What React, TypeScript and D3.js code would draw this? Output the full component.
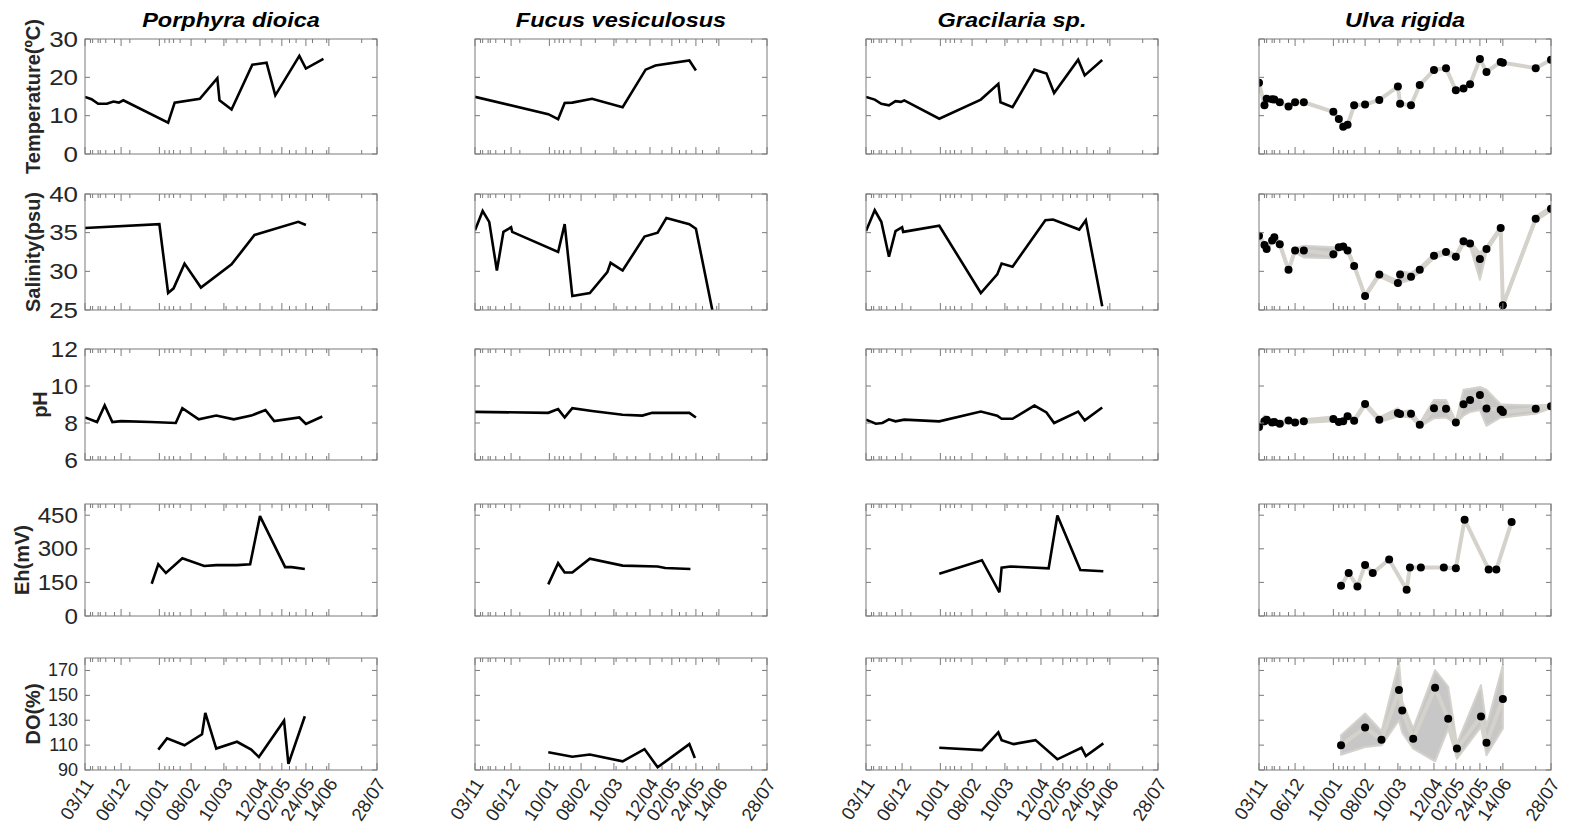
import React from "react";
import * as d3 from "d3";

// ---------- chart content ----------
const speciesNames = ["Porphyra dioica", "Fucus vesiculosus", "Gracilaria sp.", "Ulva rigida"];
const variableLabels = ["Temperature(ºC)", "Salinity(psu)", "pH", "Eh(mV)", "DO(%)"];
const yDomains: [number, number][] = [[0, 30], [25, 40], [6, 12], [0, 500], [90, 180]];
const yTickValues = [
  [0, 10, 20, 30],
  [25, 30, 35, 40],
  [6, 8, 10, 12],
  [0, 150, 300, 450],
  [90, 110, 130, 150, 170],
];

const axisStart = "03/11";
const axisEnd = "28/07";
const labelledDates = ["03/11", "06/12", "10/01", "08/02", "10/03", "12/04", "02/05", "24/05", "14/06", "28/07"];

type Pt = [string, number];

// Porphyra dioica
const porphyraTemp: Pt[] = [["03/11", 14.9], ["09/11", 14.3], ["15/11", 13.1], ["23/11", 13.1], ["29/11", 13.7], ["04/12", 13.4], ["08/12", 14.0], ["18/01", 8.2], ["24/01", 13.4], ["16/02", 14.4], ["04/03", 19.8], ["06/03", 14.0], ["17/03", 11.6], ["05/04", 23.3], ["18/04", 23.8], ["26/04", 15.3], ["18/05", 25.6], ["24/05", 22.3], ["09/06", 24.8]];
const porphyraSal: Pt[] = [["03/11", 35.6], ["10/01", 36.1], ["18/01", 27.2], ["23/01", 27.8], ["02/02", 31.0], ["17/02", 27.9], ["17/03", 30.9], ["07/04", 34.7], ["17/05", 36.4], ["24/05", 36.0]];
const porphyraPh: Pt[] = [["03/11", 8.3], ["14/11", 8.05], ["21/11", 8.95], ["28/11", 8.05], ["06/12", 8.1], ["02/01", 8.05], ["25/01", 8.0], ["31/01", 8.8], ["15/02", 8.2], ["03/03", 8.4], ["19/03", 8.2], ["04/04", 8.4], ["17/04", 8.7], ["25/04", 8.1], ["18/05", 8.3], ["24/05", 7.95], ["08/06", 8.35]];
const porphyraEh: Pt[] = [["03/01", 144], ["09/01", 231], ["16/01", 192], ["31/01", 258], ["20/02", 223], ["03/03", 227], ["22/03", 227], ["03/04", 231], ["12/04", 446], ["05/05", 218], ["11/05", 218], ["23/05", 210]];
const porphyraDo: Pt[] = [["09/01", 106.4], ["17/01", 115.4], ["02/02", 109.9], ["18/02", 118.7], ["21/02", 135.9], ["03/03", 107.2], ["22/03", 112.7], ["04/04", 106.4], ["11/04", 100.4], ["04/05", 129.6], ["08/05", 94.9], ["23/05", 133.2]];

// Fucus vesiculosus
const fucusTemp: Pt[] = [["03/11", 14.9], ["09/01", 10.4], ["18/01", 9.1], ["24/01", 13.3], ["31/01", 13.4], ["18/02", 14.4], ["18/03", 12.2], ["08/04", 22.0], ["17/04", 23.1], ["18/05", 24.4], ["24/05", 21.8]];
const fucusSal: Pt[] = [["03/11", 35.3], ["10/11", 37.8], ["16/11", 36.4], ["23/11", 30.1], ["29/11", 35.1], ["06/12", 35.7], ["07/12", 35.1], ["18/01", 32.5], ["24/01", 36.1], ["31/01", 26.8], ["16/02", 27.2], ["04/03", 29.9], ["07/03", 31.1], ["18/03", 30.1], ["07/04", 34.5], ["19/04", 35.0], ["27/04", 36.9], ["18/05", 36.1], ["24/05", 35.5], ["08/06", 25.0]];
const fucusPh: Pt[] = [["03/11", 8.6], ["09/01", 8.55], ["18/01", 8.75], ["24/01", 8.3], ["31/01", 8.8], ["18/02", 8.65], ["18/03", 8.45], ["05/04", 8.4], ["14/04", 8.55], ["18/05", 8.55], ["24/05", 8.3]];
const fucusEh: Pt[] = [["09/01", 141], ["18/01", 236], ["24/01", 194], ["31/01", 194], ["16/02", 256], ["18/03", 225], ["19/04", 221], ["26/04", 214], ["19/05", 210]];
const fucusDo: Pt[] = [["09/01", 104.2], ["31/01", 100.7], ["16/02", 102.5], ["18/03", 97.0], ["07/04", 106.8], ["19/04", 92.2], ["18/05", 110.8], ["23/05", 99.6]];

// Gracilaria sp.
const gracTemp: Pt[] = [["03/11", 14.9], ["11/11", 14.2], ["17/11", 13.1], ["24/11", 12.7], ["30/11", 13.8], ["05/12", 13.6], ["08/12", 14.0], ["09/01", 9.2], ["16/02", 14.2], ["04/03", 18.3], ["06/03", 13.5], ["17/03", 12.2], ["06/04", 22.0], ["17/04", 21.0], ["24/04", 15.9], ["16/05", 24.6], ["22/05", 20.5], ["07/06", 24.5]];
const gracSal: Pt[] = [["03/11", 35.2], ["11/11", 37.9], ["17/11", 36.4], ["24/11", 31.9], ["30/11", 35.2], ["06/12", 35.7], ["07/12", 35.1], ["09/01", 35.9], ["16/02", 27.2], ["03/03", 29.6], ["07/03", 31.0], ["17/03", 30.6], ["16/04", 36.6], ["23/04", 36.7], ["17/05", 35.4], ["23/05", 36.6], ["07/06", 25.5]];
const gracPh: Pt[] = [["03/11", 8.18], ["12/11", 7.96], ["18/11", 8.0], ["24/11", 8.2], ["30/11", 8.09], ["08/12", 8.18], ["09/01", 8.09], ["16/02", 8.62], ["03/03", 8.39], ["07/03", 8.23], ["17/03", 8.23], ["06/04", 8.94], ["17/04", 8.57], ["24/04", 8.0], ["16/05", 8.62], ["22/05", 8.14], ["07/06", 8.84]];
const gracEh: Pt[] = [["09/01", 189], ["17/02", 249], ["05/03", 106], ["07/03", 216], ["15/03", 221], ["19/04", 213], ["27/04", 449], ["18/05", 205], ["08/06", 200]];
const gracDo: Pt[] = [["09/01", 107.9], ["17/02", 106], ["04/03", 120.2], ["07/03", 114], ["18/03", 110.8], ["07/04", 114], ["27/04", 98.6], ["19/05", 107.9], ["23/05", 101.2], ["08/06", 111.4]];

// Ulva rigida (mean with min–max envelope)
const ulvaDates = ["03/11", "08/11", "10/11", "15/11", "17/11", "22/11", "30/11", "06/12", "14/12", "10/01", "15/01", "19/01", "23/01", "29/01", "08/02", "21/02", "10/03", "12/03", "22/03", "30/03", "12/04", "23/04", "02/05", "09/05", "15/05", "24/05", "30/05", "12/06", "14/06", "14/07", "28/07"];
const ulvaTemp = [18.6, 12.7, 14.4, 14.3, 14.2, 13.5, 12.4, 13.5, 13.5, 11.0, 9.1, 7.1, 7.6, 12.7, 12.9, 14.1, 17.6, 13.1, 12.7, 18.0, 21.9, 22.4, 16.6, 17.1, 18.2, 24.8, 21.4, 24.0, 23.8, 22.4, 24.6];
const ulvaSal = [34.6, 33.4, 32.9, 34.0, 34.4, 33.5, 30.2, 32.7, 32.7, 32.2, 33.1, 33.2, 32.7, 30.7, 26.8, 29.6, 28.5, 29.6, 29.3, 30.2, 32.0, 32.5, 31.9, 33.9, 33.6, 31.6, 32.9, 35.6, 25.6, 36.8, 38.1];
const ulvaSalLo = [34.3, 33.1, 32.6, 33.7, 34.1, 33.2, 29.9, 32.4, 31.8, 31.7, 32.8, 32.9, 32.4, 30.4, 26.5, 29.3, 28.2, 28.5, 28.9, 29.9, 31.7, 32.2, 31.6, 33.4, 33.2, 28.9, 32.5, 35.3, 25.3, 36.5, 37.8];
const ulvaSalHi = [34.9, 33.7, 33.2, 34.3, 34.7, 33.8, 30.5, 33.0, 33.3, 33.1, 33.4, 33.5, 33.0, 31.0, 27.1, 29.9, 28.8, 30.0, 29.8, 30.5, 32.3, 32.8, 32.2, 34.2, 33.9, 32.4, 33.2, 35.9, 25.9, 37.1, 38.4];
const ulvaPh = [7.79, 8.09, 8.18, 8.03, 8.05, 7.96, 8.14, 8.03, 8.09, 8.21, 8.05, 8.09, 8.36, 8.12, 9.03, 8.18, 8.54, 8.48, 8.5, 7.91, 8.8, 8.77, 8.03, 9.02, 9.25, 9.52, 8.78, 8.71, 8.59, 8.77, 8.91];
const ulvaPhLo = [7.65, 7.9, 8.0, 7.9, 7.95, 7.85, 8.05, 7.95, 8.0, 8.1, 7.95, 8.0, 8.25, 8.0, 8.9, 8.05, 8.35, 8.35, 8.3, 7.8, 8.25, 8.3, 7.95, 8.4, 8.6, 8.7, 7.85, 8.3, 8.3, 8.5, 8.8];
const ulvaPhHi = [7.95, 8.4, 8.3, 8.15, 8.15, 8.05, 8.25, 8.1, 8.2, 8.35, 8.15, 8.2, 8.5, 8.25, 9.15, 8.3, 8.8, 8.6, 8.7, 8.0, 9.25, 9.25, 8.1, 9.8, 9.85, 9.95, 9.8, 9.0, 9.0, 8.95, 9.0];
const ulvaEhDates = ["17/01", "24/01", "01/02", "08/02", "15/02", "02/03", "18/03", "21/03", "31/03", "21/04", "02/05", "10/05", "01/06", "08/06", "22/06"];
const ulvaEh = [135, 192, 132, 228, 192, 252, 117, 217, 217, 217, 213, 430, 208, 208, 420];
const ulvaDoDates = ["17/01", "08/02", "23/02", "11/03", "14/03", "24/03", "13/04", "25/04", "03/05", "25/05", "30/05", "14/06"];
const ulvaDo = [109.8, 124.1, 114.4, 154.2, 137.8, 115.2, 156.1, 131.1, 107.2, 133, 111.8, 147];
const ulvaDoLo = [102.3, 108.5, 109.8, 130, 120, 107.2, 97, 123.3, 99.1, 124.7, 101.8, 123.3];
const ulvaDoHi = [117.9, 135.4, 121.1, 177.1, 145, 123.3, 170.3, 156.9, 111.2, 158.2, 124.7, 174.4];

// ---------- helpers ----------
// "dd/mm" -> Date; the campaign runs from November 2018 to July 2019
const parseDM = (s: string): Date => {
  const [d, m] = s.split("/").map(Number);
  return new Date(m >= 9 ? 2018 : 2019, m - 1, d);
};

type UlvaSeries = { dates: string[]; values: number[]; lo?: number[]; hi?: number[] };

const lineSeries: Pt[][][] = [
  [porphyraTemp, porphyraSal, porphyraPh, porphyraEh, porphyraDo],
  [fucusTemp, fucusSal, fucusPh, fucusEh, fucusDo],
  [gracTemp, gracSal, gracPh, gracEh, gracDo],
];
const ulvaSeries: UlvaSeries[] = [
  { dates: ulvaDates, values: ulvaTemp },
  { dates: ulvaDates, values: ulvaSal, lo: ulvaSalLo, hi: ulvaSalHi },
  { dates: ulvaDates, values: ulvaPh, lo: ulvaPhLo, hi: ulvaPhHi },
  { dates: ulvaEhDates, values: ulvaEh },
  { dates: ulvaDoDates, values: ulvaDo, lo: ulvaDoLo, hi: ulvaDoHi },
];

// ---------- layout ----------
const W = 1578;
const H = 830;
const colLeft = [85, 475, 866, 1259];
const panelW = 292;
const rowTop = [39, 194, 349, 504, 658];
const rowH = [115, 116, 111, 112, 112];
const tickFont = [22, 22, 22, 22, 18];
const tickStretch = [1.18, 1.18, 1.12, 1.1, 1.0];
const titleX = [33, 33, 40, 22, 33];

const FONT = "'Liberation Sans', Arial, Helvetica, sans-serif";
const INK = "#262626";
const BOX = "#7a7a7a";
const ULVA_LINE = "#d5d2cc";
const ULVA_BAND = "#c7c7c7";

const Stretched = ({ x, y, sx, children, ...rest }: any) => (
  <g transform={`translate(${x},${y}) scale(${sx},1)`}>
    <text x={0} y={0} {...rest}>
      {children}
    </text>
  </g>
);

function Panel({ row, col }: { row: number; col: number }) {
  const x0 = colLeft[col];
  const y0 = rowTop[row];
  const h = rowH[row];
  const x = d3.scaleTime().domain([parseDM(axisStart), parseDM(axisEnd)]).range([x0, x0 + panelW]);
  const y = d3.scaleLinear().domain(yDomains[row]).range([y0 + h, y0]);
  const clipId = `clip-${row}-${col}`;
  const majorSet = new Set(labelledDates);

  let marks: React.ReactNode = null;
  if (col < 3) {
    const data = lineSeries[col][row];
    const line = d3
      .line<Pt>()
      .x((d) => x(parseDM(d[0])))
      .y((d) => y(d[1]));
    marks = (
      <path d={line(data) || ""} fill="none" stroke="#000" strokeWidth={2.6} strokeLinejoin="miter" strokeMiterlimit={3} />
    );
  } else {
    const s = ulvaSeries[row];
    const idx = s.values.map((_, i) => i);
    const line = d3
      .line<number>()
      .x((i) => x(parseDM(s.dates[i])))
      .y((i) => y(s.values[i]));
    let band: React.ReactNode = null;
    if (s.lo && s.hi) {
      const area = d3
        .area<number>()
        .x((i) => x(parseDM(s.dates[i])))
        .y0((i) => y(s.lo![i]))
        .y1((i) => y(s.hi![i]));
      band = <path d={area(idx) || ""} fill={ULVA_BAND} stroke={ULVA_LINE} strokeWidth={2} strokeLinejoin="round" />;
    }
    marks = (
      <g>
        {band}
        <path d={line(idx) || ""} fill="none" stroke={ULVA_LINE} strokeWidth={4} strokeLinejoin="round" />
        {idx.map((i) => (
          <circle key={i} cx={x(parseDM(s.dates[i]))} cy={y(s.values[i])} r={4} fill="#000" />
        ))}
      </g>
    );
  }

  return (
    <g>
      <defs>
        <clipPath id={clipId}>
          <rect x={x0} y={y0} width={panelW} height={h} />
        </clipPath>
      </defs>
      <g clipPath={`url(#${clipId})`}>{marks}</g>
      {/* x ticks at every sampling date, longer at the labelled dates */}
      {ulvaDates.map((d) => {
        const xx = x(parseDM(d));
        const len = majorSet.has(d) ? 7 : 4;
        return (
          <g key={d} stroke={BOX} strokeWidth={1}>
            <line x1={xx} x2={xx} y1={y0 + h} y2={y0 + h - len} />
            <line x1={xx} x2={xx} y1={y0} y2={y0 + len} />
          </g>
        );
      })}
      {/* y ticks on both sides */}
      {yTickValues[row].map((v) => (
        <g key={v} stroke={BOX} strokeWidth={1}>
          <line x1={x0} x2={x0 + 5} y1={y(v)} y2={y(v)} />
          <line x1={x0 + panelW} x2={x0 + panelW - 5} y1={y(v)} y2={y(v)} />
        </g>
      ))}
      <rect x={x0} y={y0} width={panelW} height={h} fill="none" stroke={BOX} strokeWidth={1} />
      {col === 0 &&
        yTickValues[row].map((v) => (
          <Stretched
            key={"l" + v}
            x={x0 - 7}
            y={y(v)}
            sx={tickStretch[row]}
            textAnchor="end"
            dominantBaseline="central"
            fontFamily={FONT}
            fontSize={tickFont[row]}
            fill={INK}
          >
            {v}
          </Stretched>
        ))}
      {row === 4 &&
        labelledDates.map((d) => {
          const xx = x(parseDM(d)) + 4;
          const yy = y0 + h + 10;
          return (
            <text
              key={"x" + d}
              x={xx}
              y={yy}
              transform={`rotate(-57,${xx},${yy})`}
              textAnchor="end"
              dominantBaseline="central"
              fontFamily={FONT}
              fontSize={18.5}
              fill={INK}
            >
              {d}
            </text>
          );
        })}
    </g>
  );
}

export default function App() {
  return (
    <svg
      width={W}
      height={H}
      viewBox={`0 0 ${W} ${H}`}
      style={{ position: "absolute", left: 0, top: 0, background: "#fff" }}
    >
      <rect x={0} y={0} width={W} height={H} fill="#fff" />
      {speciesNames.map((name, c) => (
        <Stretched
          key={name}
          x={colLeft[c] + panelW / 2}
          y={27}
          sx={1.12}
          textAnchor="middle"
          fontFamily={FONT}
          fontSize={21}
          fontWeight="bold"
          fontStyle="italic"
          fill="#000"
        >
          {name}
        </Stretched>
      ))}
      {variableLabels.map((label, r) => {
        const cy = rowTop[r] + rowH[r] / 2;
        const cx = titleX[r];
        return (
          <text
            key={label}
            x={cx}
            y={cy}
            transform={`rotate(-90,${cx},${cy})`}
            textAnchor="middle"
            dominantBaseline="central"
            fontFamily={FONT}
            fontSize={20}
            fontWeight="bold"
            fill={INK}
          >
            {label}
          </text>
        );
      })}
      {[0, 1, 2, 3, 4].map((r) => [0, 1, 2, 3].map((c) => <Panel key={`${r}-${c}`} row={r} col={c} />))}
    </svg>
  );
}
